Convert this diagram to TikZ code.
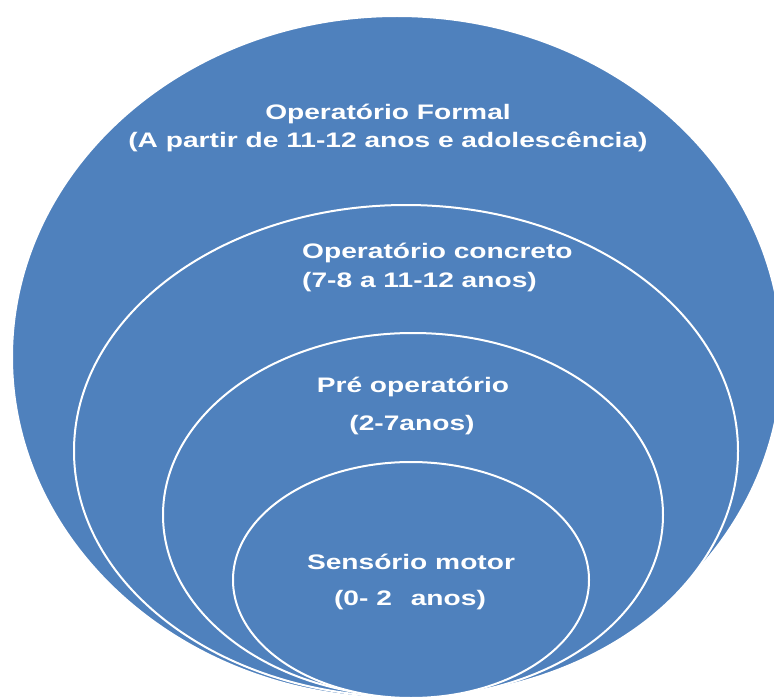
\documentclass[tikz,border=0pt]{standalone}
\usepackage{fontspec}
\newfontfamily\stagefont[FakeStretch=1.34]{Liberation Sans}
\usetikzlibrary{shapes.geometric}
\definecolor{stageblue}{RGB}{79,129,189}

\begin{document}
\begin{tikzpicture}[
		x=1pt, y=-1pt,
		stage/.style = {
			ellipse,
			draw = white,
			fill = stageblue,
			line width = 2pt,
			inner sep = 0pt
		},
		stagetext/.style = {
			text = white,
			inner sep = 0pt,
			font = \stagefont\bfseries\fontsize{21}{28}\selectfont
		}
	]
	\clip (0,0) rectangle (774,698);
	% nested stages, all touching the bottom
	\node[stage, minimum width=770pt, minimum height=682pt] (formal)   at (397,357) {};
	\node[stage, minimum width=664pt, minimum height=492pt] (concreto) at (406,451) {};
	\node[stage, minimum width=500pt, minimum height=364pt] (pre)      at (413,515) {};
	\node[stage, minimum width=356pt, minimum height=236pt] (sensorio) at (411,580) {};
	% texts
	\node[stagetext, anchor=base]      (formalA)   at (388,120) {Operatório Formal};
	\node[stagetext, anchor=base]      (formalB)   at (388,148) {(A partir de 11-12 anos e adolescência)};
	\node[stagetext, anchor=base west] (concretoA) at (302,258) {Operatório concreto};
	\node[stagetext, anchor=base west] (concretoB) at (302,287) {(7-8 a 11-12 anos)};
	\node[stagetext, anchor=base]      (preA)      at (413,392) {Pré operatório};
	\node[stagetext, anchor=base]      (preB)      at (412,430) {(2-7anos)};
	\node[stagetext, anchor=base]      (sensorioA) at (411,569) {Sensório motor};
	\node[stagetext, anchor=base]      (sensorioB) at (410,605) {(0- 2\hspace{0.9em}anos)};
\end{tikzpicture}
\end{document}
